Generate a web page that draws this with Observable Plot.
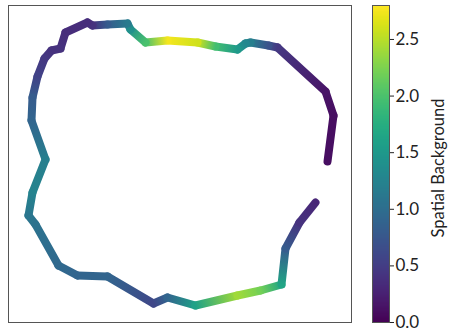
<!DOCTYPE html>
<html><head><meta charset="utf-8">
<script src="https://cdn.jsdelivr.net/npm/d3@7"></script>
<script src="https://cdn.jsdelivr.net/npm/@observablehq/plot@0.6"></script>
<style>
body{margin:0;background:#fff;}
#wrap{display:flex;width:449px;height:336px;}
</style>
</head><body><div id="wrap"></div>
<script>
// trajectory positions (pixel-like units) and background values
const pathX = [327,333,325,277,268,250,245,237,215,197,167,145,130,127,107,92,87,65,60,51,44,37,32,31,45,32,28,35,58,77,107,153,167,195,237,260,281,285,299,315];
const pathY = [161,115,91,47,45,42,43,49,46,42,40,42,29,23,24,25,22,32,48,50,58,76,97,120,159,192,215,224,265,275,276,303,297,305,295,290,284,248,222,202];
const background = [0.1,0.1,0.15,0.45,0.7,1.2,1.3,1.5,1.95,2.6,2.75,2.0,1.4,1.15,0.8,0.4,0.35,0.35,0.4,0.4,0.45,0.55,0.8,0.9,1.2,1.25,1.1,1.05,0.95,0.9,0.9,0.6,0.9,1.6,2.4,2.2,1.65,0.8,0.4,0.3];
const colorTicks = [0, 0.5, 1, 1.5, 2, 2.5];
const colorMax = 2.8;
const colorLabel = "Spatial Background";
const font = "Lato, 'DejaVu Sans', sans-serif";

const segments = d3.pairs(d3.range(pathX.length)).map(([i, j]) => ({
  x1: pathX[i], y1: pathY[i], x2: pathX[j], y2: pathY[j], v1: background[i], v2: background[j]
}));
const cs = d3.scaleSequential(d3.interpolateViridis).domain([0, colorMax]);
let gid = 0;

const main = Plot.plot({
  width: 360, height: 336,
  marginLeft: 8, marginRight: 9, marginTop: 5, marginBottom: 14,
  x: {domain: [8, 351], axis: null},
  y: {domain: [322, 5], axis: null},
  color: {type: "linear", scheme: "viridis", domain: [0, colorMax]},
  marks: [
    Plot.frame({stroke: "#555"}),
    Plot.link(segments, {
      x1: "x1", y1: "y1", x2: "x2", y2: "y2",
      stroke: "v1", strokeWidth: 8, strokeLinecap: "round",
      render(index, scales, values, dims, context, next) {
        const g = next(index, scales, values, dims, context);
        const defs = d3.select(g).insert("defs", ":first-child");
        d3.select(g).selectAll("path").each(function(i) {
          const id = "seg" + (gid++);
          const lg = defs.append("linearGradient").attr("id", id)
            .attr("gradientUnits", "userSpaceOnUse")
            .attr("x1", values.x1[i]).attr("y1", values.y1[i])
            .attr("x2", values.x2[i]).attr("y2", values.y2[i]);
          lg.append("stop").attr("offset", 0).attr("stop-color", cs(segments[i].v1));
          lg.append("stop").attr("offset", 1).attr("stop-color", cs(segments[i].v2));
          d3.select(this).attr("stroke", `url(#${id})`);
        });
        return g;
      }
    })
  ]
});

const bar = Plot.plot({
  width: 89, height: 336,
  marginLeft: 12, marginRight: 60, marginTop: 5, marginBottom: 14,
  style: {fontFamily: font, fontSize: "17px", color: "#222"},
  x: {domain: [0, 1], axis: null},
  y: {domain: [0, colorMax]},
  color: {type: "linear", scheme: "viridis", domain: [0, colorMax]},
  marks: [
    Plot.raster({x1: 0, x2: 1, y1: 0, y2: colorMax, fill: (x, y) => y, width: 1, height: 317}),
    Plot.frame({stroke: "#555"}),
    Plot.axisY(colorTicks, {
      anchor: "right", tickFormat: d3.format(".1f"), tickSize: 4, tickPadding: 2,
      fontSize: 17, label: null
    }),
    Plot.text([colorLabel], {
      frameAnchor: "right", dx: 49, dy: 4, rotate: -90, textAnchor: "middle",
      fontSize: 16.5, fill: "#222"
    })
  ]
});

document.getElementById("wrap").append(main, bar);
</script>
</body></html>
